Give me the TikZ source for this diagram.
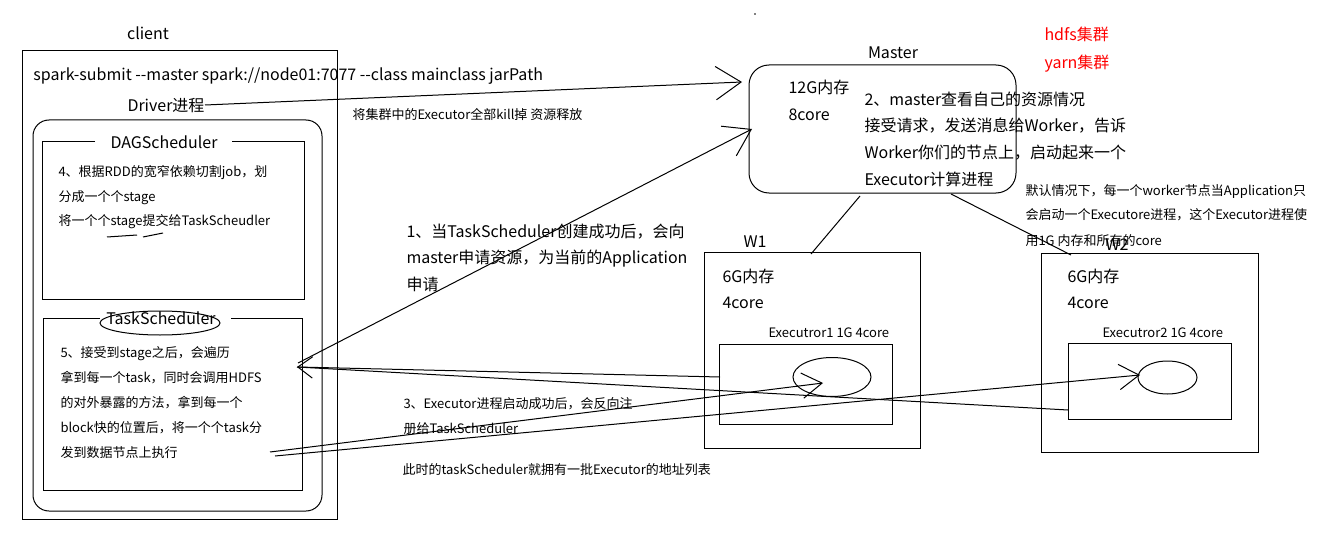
\documentclass[tikz,border=0pt]{standalone}
\usepackage{fontspec}
\setmainfont{Noto Sans CJK SC}[Ligatures=TeXOff]
\usetikzlibrary{arrows.meta,fit,shapes.geometric}
\begin{document}
\begin{tikzpicture}[x=0.75pt,y=-0.75pt,line width=0.75pt,
  big/.style={font=\fontsize{12}{14}\selectfont, inner sep=0, text height=0.88em, text depth=0.12em},
  small/.style={font=\fontsize{9.75}{12}\selectfont, inner sep=0, text height=0.88em, text depth=0.12em},
  lt/.style={anchor=west},
  marrow/.style={-{Straight Barb[length=19pt,width=25pt]}},
  earrow/.style={-{Straight Barb[length=15pt,width=19pt]}},
  tarrow/.style={-{Straight Barb[length=11pt,width=16pt]}},
  redtxt/.style={text=red}
]
\useasboundingbox (0,0) rectangle (1322,535);
\fill[white] (0,0) rectangle (1322,535);
\fill (755,14) circle (0.9);

% ---------- client side ----------
\node[big] (clientlbl) at (148,34) {client};
\node[draw, inner sep=0, fit={(22,51) (337,519)}] (client) {};
\node[big,lt] (submit) at (33,75) {spark-submit --master spark://node01:7077 --class mainclass jarPath};
\node[big,lt] (driverlbl) at (127,106) {Driver进程};
\node[draw, rounded corners=12pt, inner sep=0, fit={(33,120) (322,511)}] (driver) {};

% DAGScheduler box with gap
\draw (95,142) -- (42,142) -- (42,299) -- (304,299) -- (304,142) -- (232,142);
\node[big] (dagtitle) at (164,143) {DAGScheduler};
\node[small,lt] (dag1) at (58,171) {4、根据RDD的宽窄依赖切割job，划};
\node[small,lt] (dag2) at (58,196) {分成一个个stage};
\node[small,lt] (dag3) at (58,220) {将一个个stage提交给TaskScheudler};
\draw (107,237) -- (137,235);
\draw (143,237) -- (163,233);

% TaskScheduler box with gap
\draw (100,318) -- (43,318) -- (43,490) -- (302,490) -- (302,318) -- (231,318);
\node[draw, ellipse, inner sep=0, minimum width=90pt, minimum height=18pt] (tsring) at (160,323) {};
\node[big] (tstitle) at (161,319) {TaskScheduler};
\node[small,lt] (ts1) at (60,352) {5、接受到stage之后，会遍历};
\node[small,lt] (ts2) at (60,377) {拿到每一个task，同时会调用HDFS};
\node[small,lt] (ts3) at (60,402) {的对外暴露的方法，拿到每一个};
\node[small,lt] (ts4) at (60,427) {block快的位置后，将一个个task分};
\node[small,lt] (ts5) at (60,452) {发到数据节点上执行};

% ---------- middle texts ----------
\node[small,lt] (killtxt) at (352,114) {将集群中的Executor全部kill掉 资源释放};
\node[big,lt] (s1a) at (406,232) {1、当TaskScheduler创建成功后，会向};
\node[big,lt] (s1b) at (406,258) {master申请资源，为当前的Application};
\node[big,lt] (s1c) at (406,285) {申请};
\node[small,lt] (s3a) at (403,403) {3、Executor进程启动成功后，会反向注};
\node[small,lt] (s3b) at (403,428) {册给TaskScheduler};
\node[small,lt] (s3c) at (402,469) {此时的taskScheduler就拥有一批Executor的地址列表};

% ---------- master ----------
\node[big] (masterlbl) at (893,53) {Master};
\node[draw, rounded corners=15pt, inner sep=0, fit={(749,65) (1016,193)}] (master) {};
\node[big,lt] (mmem) at (788,88) {12G内存};
\node[big,lt] (mcore) at (788,115) {8core};
\node[big,lt] (s2a) at (864,100) {2、master查看自己的资源情况};
\node[big,lt] (s2b) at (864,126) {接受请求，发送消息给Worker，告诉};
\node[big,lt] (s2c) at (864,153) {Worker你们的节点上，启动起来一个};
\node[big,lt] (s2d) at (864,180) {Executor计算进程};
\node[big,lt,redtxt] (hdfs) at (1044,35) {hdfs集群};
\node[big,lt,redtxt] (yarn) at (1044,63) {yarn集群};

% ---------- workers ----------
\node[big] (w1lbl) at (755,242) {W1};
\node[draw, inner sep=0, fit={(704,252) (920,448)}] (w1) {};
\node[big,lt] (w1mem) at (722,277) {6G内存};
\node[big,lt] (w1core) at (722,303) {4core};
\node[small,lt] (e1lbl) at (768,332) {Executror1 1G 4core};
\node[draw, inner sep=0, fit={(719,344) (892,424)}] (exec1) {};
\node[draw, ellipse, inner sep=0, minimum width=58.5pt, minimum height=29.25pt] (el1) at (832,377) {};

\node[draw, inner sep=0, fit={(1041,253) (1258,452)}] (w2) {};
\node[big,lt] (w2mem) at (1067,277) {6G内存};
\node[big,lt] (w2core) at (1067,303) {4core};
\node[small,lt] (e2lbl) at (1102,332) {Executror2 1G 4core};
\node[draw, inner sep=0, fit={(1068,343) (1231,419)}] (exec2) {};
\node[draw, ellipse, inner sep=0, minimum width=44.25pt, minimum height=24.75pt] (el2) at (1167.5,377.5) {};

\node[small,lt] (defa) at (1025,190) {默认情况下，每一个worker节点当Application只};
\node[small,lt] (defb) at (1025,214) {会启动一个Executore进程，这个Executor进程使};
\node[big] (w2lbl) at (1117,245) {W2};
\node[small,lt] (defc) at (1025,240) {用1G 内存和所有的core};

% ---------- connectors ----------
\coordinate (drvOut) at (205,105);
\coordinate (mIn1) at (742,82);
\coordinate (tsOut) at (298,363);
\coordinate (mIn2) at (752,129);
\coordinate (mW1) at (860,196);
\coordinate (w1Top) at (811,254);
\coordinate (mW2) at (951,194);
\coordinate (w2Top) at (1071,255);
\coordinate (tsIn) at (297,367);
\coordinate (e1Left) at (720,377);
\coordinate (e2Left) at (1068,410);
\coordinate (tsOutA) at (270,452);
\coordinate (e1Tip) at (823,383);
\coordinate (tsOutB) at (275,456);
\coordinate (e2Tip) at (1140,375);

\draw[marrow] (drvOut) -- (mIn1);
\draw[marrow] (tsOut) -- (mIn2);
\draw (mW1) -- (w1Top);
\draw (mW2) -- (w2Top);
\draw[tarrow] (e1Left) -- (tsIn);
\draw (e2Left) -- (tsIn);
\draw[earrow] (tsOutA) -- (e1Tip);
\draw[earrow] (tsOutB) -- (e2Tip);
\end{tikzpicture}
\end{document}
